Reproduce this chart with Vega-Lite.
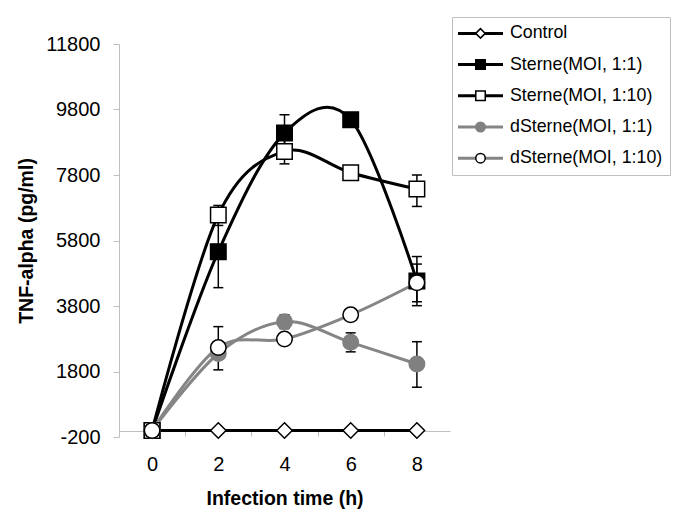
{
  "$schema": "https://vega.github.io/schema/vega-lite/v6.json",
  "width": 331,
  "height": 393,
  "autosize": {"type": "none"},
  "padding": {"left": 119, "top": 44, "right": 235, "bottom": 83},
  "background": "white",
  "config": {"view": {"stroke": null}, "font": "Liberation Sans", "axis": {"grid": false}},
  "data": {"values": [
    {"series": "Control", "k": 1, "t": 0, "v": 0},
    {"series": "Control", "k": 1, "t": 2, "v": 0},
    {"series": "Control", "k": 1, "t": 4, "v": 0},
    {"series": "Control", "k": 1, "t": 6, "v": 0},
    {"series": "Control", "k": 1, "t": 8, "v": 0},
    {"series": "Sterne(MOI, 1:1)", "k": 2, "t": 0, "v": 0},
    {"series": "Sterne(MOI, 1:1)", "k": 2, "t": 2, "v": 5460, "lo": 4360, "hi": 6560},
    {"series": "Sterne(MOI, 1:1)", "k": 2, "t": 4, "v": 9080, "lo": 8520, "hi": 9640},
    {"series": "Sterne(MOI, 1:1)", "k": 2, "t": 6, "v": 9490},
    {"series": "Sterne(MOI, 1:1)", "k": 2, "t": 8, "v": 4560, "lo": 3810, "hi": 5310},
    {"series": "Sterne(MOI, 1:10)", "k": 3, "t": 0, "v": 0},
    {"series": "Sterne(MOI, 1:10)", "k": 3, "t": 2, "v": 6580, "lo": 6260, "hi": 6870},
    {"series": "Sterne(MOI, 1:10)", "k": 3, "t": 4, "v": 8520, "lo": 8140, "hi": 8900},
    {"series": "Sterne(MOI, 1:10)", "k": 3, "t": 6, "v": 7870},
    {"series": "Sterne(MOI, 1:10)", "k": 3, "t": 8, "v": 7370, "lo": 6840, "hi": 7800},
    {"series": "dSterne(MOI, 1:1)", "k": 4, "t": 0, "v": 0},
    {"series": "dSterne(MOI, 1:1)", "k": 4, "t": 2, "v": 2350},
    {"series": "dSterne(MOI, 1:1)", "k": 4, "t": 4, "v": 3320, "lo": 3110, "hi": 3530},
    {"series": "dSterne(MOI, 1:1)", "k": 4, "t": 6, "v": 2690, "lo": 2400, "hi": 2980},
    {"series": "dSterne(MOI, 1:1)", "k": 4, "t": 8, "v": 2030, "lo": 1320, "hi": 2710},
    {"series": "dSterne(MOI, 1:10)", "k": 5, "t": 0, "v": 0},
    {"series": "dSterne(MOI, 1:10)", "k": 5, "t": 2, "v": 2530, "lo": 1850, "hi": 3170},
    {"series": "dSterne(MOI, 1:10)", "k": 5, "t": 4, "v": 2790},
    {"series": "dSterne(MOI, 1:10)", "k": 5, "t": 6, "v": 3530},
    {"series": "dSterne(MOI, 1:10)", "k": 5, "t": 8, "v": 4510, "lo": 3930, "hi": 5080}
  ]},
  "encoding": {
    "x": {
      "field": "t", "type": "quantitative",
      "scale": {"domain": [-1, 9], "nice": false, "zero": false},
      "axis": {
        "title": "Infection time (h)",
        "values": [0, 2, 4, 6, 8],
        "offset": -6,
        "domainColor": "#bfbfbf", "domainWidth": 1,
        "tickColor": "#bfbfbf", "tickSize": 5, "tickWidth": 1,
        "tickOffset": -33.1, "labelOffset": 33.1,
        "labelFontSize": 20, "labelColor": "black", "labelFont": "Liberation Sans",
        "labelPadding": 18,
        "titleFontSize": 19.5, "titleFontWeight": "bold", "titleColor": "black", "titleFont": "Liberation Sans",
        "titleY": 67, "titleBaseline": "middle"
      }
    },
    "y": {
      "field": "v", "type": "quantitative",
      "scale": {"domain": [-200, 11800], "nice": false, "zero": false},
      "axis": {
        "title": "TNF-alpha (pg/ml)",
        "values": [-200, 1800, 3800, 5800, 7800, 9800, 11800],
        "labelExpr": "'' + datum.value",
        "domainColor": "#bfbfbf", "domainWidth": 1,
        "tickColor": "#bfbfbf", "tickSize": 6, "tickWidth": 1,
        "labelFontSize": 20, "labelColor": "black", "labelFont": "Liberation Sans",
        "labelPadding": 13,
        "titleFontSize": 19.5, "titleFontWeight": "bold", "titleColor": "black", "titleFont": "Liberation Sans",
        "titleX": -93, "titleY": 196.5, "titleAngle": 270, "titleAlign": "center", "titleBaseline": "middle"
      }
    }
  },
  "layer": [
    {
      "mark": {"type": "line", "interpolate": "cardinal", "strokeWidth": 3},
      "encoding": {
        "color": {
          "field": "series", "type": "nominal",
          "sort": {"field": "k", "op": "min"},
          "scale": {"range": ["black", "black", "black", "#858585", "#858585"]},
          "legend": {
            "orient": "none", "legendX": 333, "legendY": -27, "title": null,
            "symbolType": "M-4.5,0H4.5", "symbolSize": 100, "symbolStrokeWidth": 3,
            "labelFontSize": 17.8, "labelFont": "Liberation Sans", "labelColor": "black",
            "labelOffset": 20.6, "symbolOffset": 12.1, "rowPadding": 12.2, "padding": 7.5,
            "strokeColor": "#bfbfbf", "zindex": 0
          }
        }
      }
    },
    {
      "transform": [{"filter": "isValid(datum.lo)"}],
      "mark": {"type": "rule", "color": "black", "strokeWidth": 1.5},
      "encoding": {
        "y": {"field": "lo", "type": "quantitative"},
        "y2": {"field": "hi"}
      }
    },
    {
      "transform": [{"filter": "isValid(datum.lo)"}],
      "mark": {"type": "tick", "orient": "horizontal", "color": "black", "size": 10, "thickness": 1.5, "opacity": 1},
      "encoding": {
        "y": {"field": "lo", "type": "quantitative"}
      }
    },
    {
      "transform": [{"filter": "isValid(datum.hi)"}],
      "mark": {"type": "tick", "orient": "horizontal", "color": "black", "size": 10, "thickness": 1.5, "opacity": 1},
      "encoding": {
        "y": {"field": "hi", "type": "quantitative"}
      }
    },
    {
      "mark": {"type": "point", "filled": true, "opacity": 1, "size": 240, "strokeWidth": 1.5},
      "encoding": {
        "shape": {
          "field": "series", "type": "nominal",
          "scale": {"domain": ["Control", "Sterne(MOI, 1:1)", "Sterne(MOI, 1:10)", "dSterne(MOI, 1:1)", "dSterne(MOI, 1:10)"],
                    "range": ["diamond", "square", "square", "circle", "circle"]},
          "legend": {
            "orient": "none", "legendX": 333, "legendY": -27, "title": null,
            "symbolSize": 90, "symbolStrokeWidth": 1.5, "symbolOpacity": 1,
            "labelFontSize": 17.8, "labelFont": "Liberation Sans", "labelOpacity": 0,
            "labelOffset": 20.6, "symbolOffset": 12.1, "rowPadding": 12.2, "padding": 7.5, "zindex": 1
          }
        },
        "fill": {
          "field": "series", "type": "nominal",
          "scale": {"domain": ["Control", "Sterne(MOI, 1:1)", "Sterne(MOI, 1:10)", "dSterne(MOI, 1:1)", "dSterne(MOI, 1:10)"],
                    "range": ["white", "black", "white", "#808080", "white"]},
          "legend": {
            "orient": "none", "legendX": 333, "legendY": -27, "title": null,
            "symbolSize": 90, "symbolStrokeWidth": 1.5, "symbolOpacity": 1,
            "labelFontSize": 17.8, "labelFont": "Liberation Sans", "labelOpacity": 0,
            "labelOffset": 20.6, "symbolOffset": 12.1, "rowPadding": 12.2, "padding": 7.5, "zindex": 1
          }
        },
        "stroke": {
          "field": "series", "type": "nominal",
          "scale": {"domain": ["Control", "Sterne(MOI, 1:1)", "Sterne(MOI, 1:10)", "dSterne(MOI, 1:1)", "dSterne(MOI, 1:10)"],
                    "range": ["black", "black", "black", "#808080", "black"]},
          "legend": {
            "orient": "none", "legendX": 333, "legendY": -27, "title": null,
            "symbolSize": 90, "symbolStrokeWidth": 1.5, "symbolOpacity": 1,
            "labelFontSize": 17.8, "labelFont": "Liberation Sans", "labelOpacity": 0,
            "labelOffset": 20.6, "symbolOffset": 12.1, "rowPadding": 12.2, "padding": 7.5, "zindex": 1
          }
        }
      }
    }
  ]
}
